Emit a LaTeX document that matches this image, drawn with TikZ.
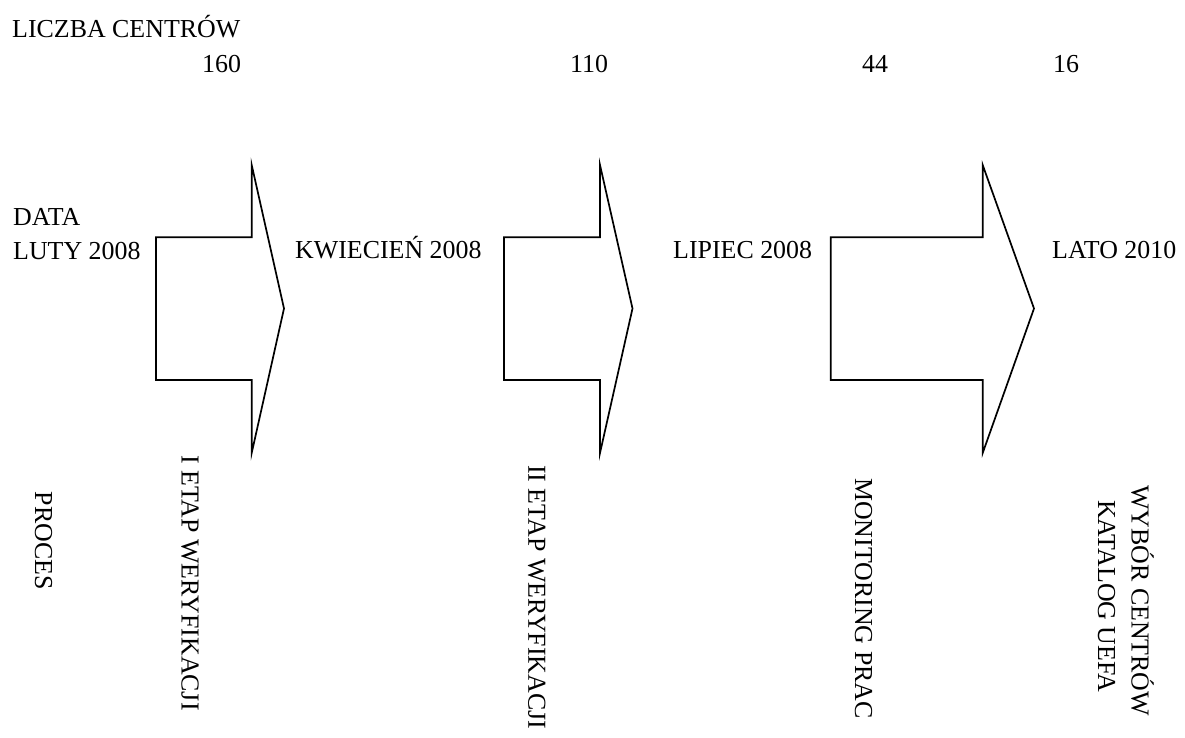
\documentclass[tikz,border=0pt]{standalone}
\usepackage{fontspec}
\setmainfont{Liberation Serif}
\begin{document}
\begin{tikzpicture}[x=1pt,y=-1pt,
  lbl/.style={inner sep=0pt,anchor=base west,font=\fontsize{25.9}{33.7}\selectfont},
  vlbl/.style={inner sep=0pt,anchor=base west,rotate=-90,font=\fontsize{25.9}{33.7}\selectfont},
  bigarrow/.style={draw=black,line width=1.7pt,line join=miter}]
\useasboundingbox (0,0) rectangle (1185,738);
% arrows
\draw[bigarrow] (156,237.3) -- (251.7,237.3) -- (251.7,165) -- (284,308.5) -- (251.7,453) -- (251.7,380) -- (156,380) -- cycle;
\draw[bigarrow] (504,237.3) -- (600,237.3) -- (600,165) -- (632.5,308.5) -- (600,453) -- (600,380) -- (504,380) -- cycle;
\draw[bigarrow] (830.7,237.3) -- (982.7,237.3) -- (982.7,165) -- (1034,308.5) -- (982.7,453) -- (982.7,380) -- (830.7,380) -- cycle;
% top labels
\node[lbl] (liczba) at (12,37.5) {LICZBA CENTRÓW};
\node[lbl] (n160) at (202,73) {160};
\node[lbl] (n110) at (570,73) {110};
\node[lbl] (n44) at (862,73) {44};
\node[lbl] (n16) at (1053,73) {16};
% dates
\node[lbl] (data) at (13,225) {DATA};
\node[lbl] (luty) at (13,259) {LUTY 2008};
\node[lbl] (kwiecien) at (295,258) {KWIECIEŃ 2008};
\node[lbl] (lipiec) at (673,258) {LIPIEC 2008};
\node[lbl] (lato) at (1052,258) {LATO 2010};
% vertical labels
\node[vlbl] (proces) at (35,491.7) {PROCES};
\node[vlbl] (etap1) at (181.7,455) {I ETAP WERYFIKACJI};
\node[vlbl] (etap2) at (528.3,465) {II ETAP WERYFIKACJI};
\node[vlbl] (monit) at (855,478) {MONITORING PRAC};
\node[vlbl] (wybor) at (1131.7,485) {WYBÓR CENTRÓW};
\node[vlbl] (katalog) at (1098,500) {KATALOG UEFA};
\end{tikzpicture}
\end{document}
